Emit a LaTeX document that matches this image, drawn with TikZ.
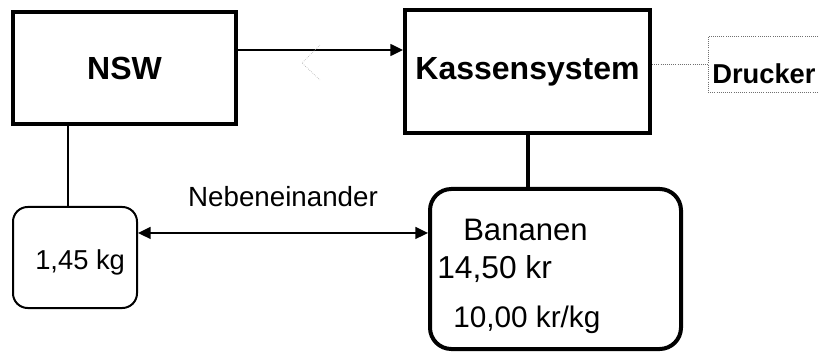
\documentclass[tikz,border=0pt]{standalone}
\usepackage{fontspec}
\setmainfont{Liberation Sans}
\usepackage{tikz}
\usetikzlibrary{arrows.meta,positioning}
\definecolor{dotGray}{HTML}{707070}
\definecolor{ghostGray}{HTML}{B0B0B0}

\begin{document}
\begin{tikzpicture}[x=0.75pt,y=0.75pt,>={Triangle[length=9.5pt,width=9pt]},
    sysbox/.style={draw,line width=3pt,inner sep=0pt},
    softbox/.style={draw,rounded corners=#1,inner sep=0pt},
    txt/.style={anchor=base west,inner sep=0pt},
    bigbold/.style={font=\bfseries\fontsize{24}{28}\selectfont}]
    \useasboundingbox (0,0) rectangle (819,-353);
    \clip (0,0) rectangle (819,-353);

    % upper row
    \node[sysbox,bigbold,minimum width=167.25pt,minimum height=84pt]
      (nsw) at (124.5,-68) {NSW};
    \node[sysbox,bigbold,minimum width=183.75pt,minimum height=92.25pt]
      (kasse) at (527.5,-71.5) {Kassensystem};
    \node[draw=dotGray,densely dotted,line width=0.6pt,minimum width=91.5pt,minimum height=42pt]
      (drucker) at (769,-64) {};
    \node[txt,font=\bfseries\fontsize{20.5}{24}\selectfont] (dtext) at (712,-84) {Drucker};

    % lower row
    \node[softbox=11pt,line width=1.5pt,minimum width=93pt,minimum height=75.75pt]
      (waage) at (75,-257.5) {};
    \node[softbox=16pt,line width=3pt,minimum width=188.25pt,minimum height=120pt]
      (bananen) at (555.5,-269) {};
    \node[txt,font=\fontsize{20.5}{24}\selectfont] (gewicht) at (35,-270) {1,45 kg};
    \node[txt,font=\fontsize{23.3}{27}\selectfont] (bname) at (463,-240) {Bananen};
    \node[txt,font=\fontsize{23.8}{27}\selectfont] (preis) at (437,-278) {14,50 kr};
    \node[txt,font=\fontsize{22.3}{26}\selectfont] (kilopreis) at (453,-327) {10,00 kr/kg};

    % connectors
    \coordinate (k1) at ([yshift=13.5pt]nsw.east);
    \draw[->,line width=1.1pt] (k1) -- (k1 -| kasse.west);
    \draw[ghostGray,densely dotted,line width=0.5pt] (320,-45) -- (302,-63) -- (320,-80);
    \draw[dotGray,densely dotted,line width=0.6pt] (kasse.east |- drucker.west) -- (drucker.west);
    \draw[line width=3pt] (kasse.south) -- (kasse.south |- bananen.north);

    \coordinate (w1) at ([xshift=-5.25pt]waage.north);
    \draw[line width=1.1pt] (w1) -- (w1 |- nsw.south);
    \coordinate (n1) at ([yshift=18.4pt]waage.east);
    \draw[<->,line width=1.1pt] (n1) -- (n1 -| bananen.west)
      node[midway,above=18.75pt,inner sep=0pt,font=\fontsize{20.8}{24}\selectfont] (nebenlbl) {Nebeneinander};
  \end{tikzpicture}
\end{document}
